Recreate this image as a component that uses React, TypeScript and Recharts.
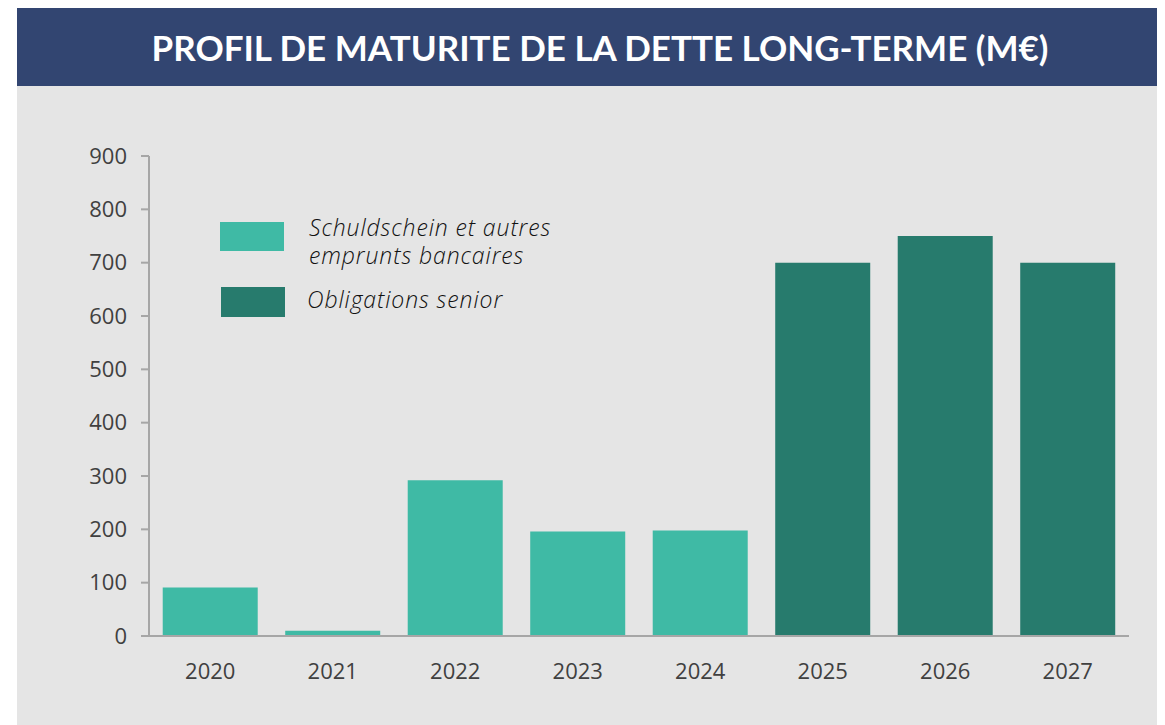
import { Bar, BarChart, XAxis, YAxis } from "recharts"

const years = ["2020", "2021", "2022", "2023", "2024", "2025", "2026", "2027"]
const schuldschein = [91, 10, 292, 196, 198, null, null, null]
const obligations = [null, null, null, null, null, 700, 750, 700]
const yTicks = [0, 100, 200, 300, 400, 500, 600, 700, 800, 900]

const seriesNames = ["Schuldschein et autres\nemprunts bancaires", "Obligations senior"]
const lightTeal = "#3fbaa5"
const darkTeal = "#277b6d"

const data = years.map((year, i) => ({
  year,
  schuldschein: schuldschein[i],
  obligations: obligations[i],
}))

// legend drawn as an overlay, the chart's own Legend would eat plot height
const LegendBox = () => (
  <div
    style={{
      position: "absolute",
      left: 203,
      top: 136,
      fontFamily: "'Open Sans', sans-serif",
      fontStyle: "italic",
      fontWeight: 300,
      fontSize: 23,
      letterSpacing: 0.9,
      color: "#111",
    }}
  >
    <div style={{ display: "flex", alignItems: "flex-start" }}>
      <div style={{ width: 64, height: 29, background: lightTeal, marginRight: 25 }} />
      <div style={{ whiteSpace: "pre", lineHeight: "28px", marginTop: -9 }}>{seriesNames[0]}</div>
    </div>
    <div style={{ display: "flex", alignItems: "center", marginTop: 18 }}>
      <div style={{ width: 64, height: 30, background: darkTeal, marginRight: 22, marginLeft: 1 }} />
      <div style={{ whiteSpace: "pre", lineHeight: "28px", marginTop: -7 }}>{seriesNames[1]}</div>
    </div>
  </div>
)

export default function App() {
  return (
    <div style={{ marginLeft: 9, width: 1148, height: 717 }}>
      <div
        style={{
          height: 78,
          background: "#324571",
          color: "#fff",
          fontFamily: "Lato, sans-serif",
          fontWeight: 700,
          fontSize: 35,
          display: "flex",
          alignItems: "center",
          justifyContent: "center",
          paddingLeft: 18,
          boxSizing: "border-box",
        }}
      >
        PROFIL DE MATURITE DE LA DETTE LONG-TERME (M€)
      </div>
      <div style={{ background: "#e5e5e5", height: 639, position: "relative" }}>
        <BarChart
          width={1148}
          height={639}
          data={data}
          margin={{ top: 70, right: 36, left: 0, bottom: 29 }}
          barCategoryGap="11.2%"
        >
          <YAxis
            width={132}
            domain={[0, 900]}
            ticks={yTicks}
            interval={0}
            tickSize={8}
            tickMargin={14}
            axisLine={{ stroke: "#a6a6a6", strokeWidth: 2 }}
            tickLine={{ stroke: "#a6a6a6", strokeWidth: 2 }}
            tick={{ fill: "#404040", fontSize: 22, fontFamily: "'Open Sans', sans-serif" }}
          />
          <XAxis
            dataKey="year"
            height={60}
            tickSize={0}
            tickMargin={27}
            axisLine={{ stroke: "#a6a6a6", strokeWidth: 2 }}
            tick={{ fill: "#404040", fontSize: 22, fontFamily: "'Open Sans', sans-serif" }}
          />
          <Bar dataKey="schuldschein" stackId="a" fill={lightTeal} isAnimationActive={false} />
          <Bar dataKey="obligations" stackId="a" fill={darkTeal} isAnimationActive={false} />
        </BarChart>
        <LegendBox />
      </div>
    </div>
  )
}
